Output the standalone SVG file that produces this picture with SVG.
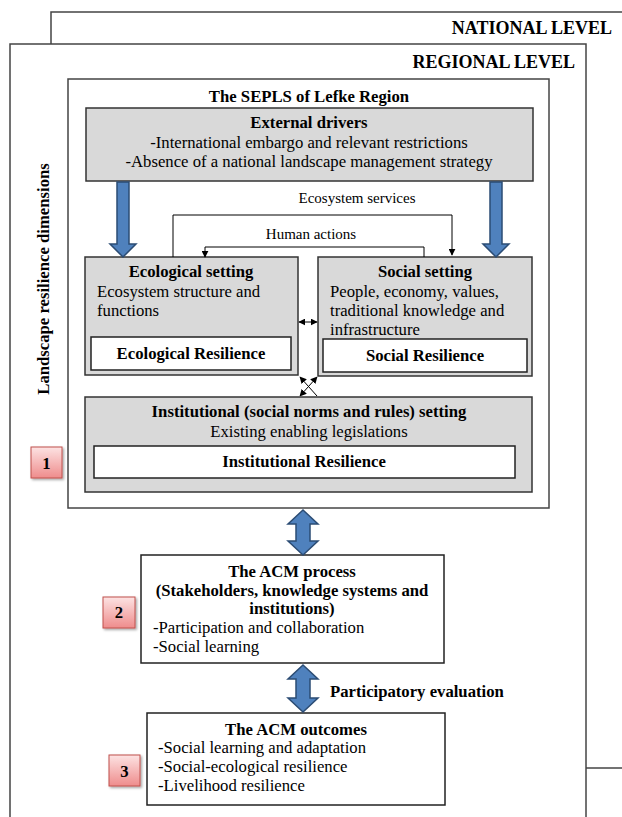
<svg xmlns="http://www.w3.org/2000/svg" width="622" height="817" viewBox="0 0 622 817">
<defs>
<style>
text{font-family:"Liberation Serif","Times New Roman",serif;fill:#000;font-size:16.7px;}
.b{font-weight:bold;}
.c{text-anchor:middle;}
.lvl{font-size:18px;font-weight:bold;text-anchor:end;}
.sm{font-size:15px;}
.frame{fill:#fff;stroke:#444;stroke-width:1.5;}
.gray{fill:#d9d9d9;stroke:#333;stroke-width:1.5;}
.inner{fill:#fff;stroke:#222;stroke-width:1.5;}
.blue{fill:#4f81bd;stroke:#2b4c74;stroke-width:1.5;}
.num{fill:url(#rg);stroke:#c0504d;stroke-width:1;}
.ln{fill:none;stroke:#000;stroke-width:1;}
</style>
<linearGradient id="rg" x1="0" y1="0" x2="0" y2="1">
<stop offset="0" stop-color="#fde3e3"/>
<stop offset="1" stop-color="#ee8c8c"/>
</linearGradient>
<filter id="sh" x="-20%" y="-20%" width="150%" height="150%">
<feDropShadow dx="1.5" dy="1.5" stdDeviation="1" flood-color="#000" flood-opacity="0.35"/>
</filter>
<marker id="ah" viewBox="0 0 10 10" refX="9" refY="5" markerWidth="7" markerHeight="7" orient="auto-start-reverse" markerUnits="userSpaceOnUse">
<path d="M0,0 L10,5 L0,10 z" fill="#000"/>
</marker>
</defs>

<g id="national">
<rect x="51" y="12" width="600" height="756" class="frame"/>
<text x="612" y="34" class="lvl">NATIONAL LEVEL</text>
</g>

<g id="regional">
<rect x="10" y="44" width="576" height="800" class="frame"/>
<text x="575" y="68" class="lvl">REGIONAL LEVEL</text>
</g>

<g id="dimensions-label">
<text transform="translate(49,279) rotate(-90)" class="b c">Landscape resilience dimensions</text>
</g>

<g id="sepls">
<rect x="68" y="79" width="481" height="429" class="frame"/>
<text x="309" y="102" class="b c">The SEPLS of Lefke Region</text>
</g>

<g id="external-drivers">
<rect x="86" y="108" width="447" height="73" class="gray"/>
<text x="309" y="128" class="b c">External drivers</text>
<text x="309" y="147.5" class="c">-International embargo and relevant restrictions</text>
<text x="309" y="166.5" class="c">-Absence of a national landscape management strategy</text>
</g>

<g id="ecological">
<rect x="85" y="257" width="213" height="118" class="gray"/>
<text x="191" y="277" class="b c">Ecological setting</text>
<text x="97" y="297">Ecosystem structure and</text>
<text x="97" y="316">functions</text>
<rect x="91" y="337" width="200" height="33" class="inner"/>
<text x="191" y="359" class="b c">Ecological Resilience</text>
</g>

<g id="social">
<rect x="318" y="257" width="214" height="119" class="gray"/>
<text x="425" y="277" class="b c">Social setting</text>
<text x="330" y="297">People, economy, values,</text>
<text x="330" y="316">traditional knowledge and</text>
<text x="330" y="335">infrastructure</text>
<rect x="323" y="339" width="204" height="33" class="inner"/>
<text x="425" y="361" class="b c">Social Resilience</text>
</g>

<g id="institutional">
<rect x="85" y="397" width="447" height="95" class="gray"/>
<text x="309" y="417" class="b c">Institutional (social norms and rules) setting</text>
<text x="309" y="437" class="c">Existing enabling legislations</text>
<rect x="94" y="446" width="421" height="32" class="inner"/>
<text x="304" y="467" class="b c">Institutional Resilience</text>
</g>

<g id="acm-process">
<rect x="141" y="555" width="303" height="108" class="inner"/>
<text x="292" y="577" class="b c">The ACM process</text>
<text x="292" y="596" class="b c">(Stakeholders, knowledge systems and</text>
<text x="292" y="614" class="b c">institutions)</text>
<text x="153" y="633">-Participation and collaboration</text>
<text x="153" y="652">-Social learning</text>
</g>

<g id="acm-outcomes">
<rect x="147" y="713" width="298" height="92" class="inner"/>
<text x="296" y="735" class="b c">The ACM outcomes</text>
<text x="158" y="753">-Social learning and adaptation</text>
<text x="158" y="772">-Social-ecological resilience</text>
<text x="158" y="791">-Livelihood resilience</text>
</g>

<g id="badge-1">
<rect x="31" y="447" width="31" height="31" class="num" filter="url(#sh)"/>
<text x="46.5" y="468.5" class="b c">1</text>
</g>
<g id="badge-2">
<rect x="103" y="597" width="32" height="31" class="num" filter="url(#sh)"/>
<text x="119" y="618" class="b c">2</text>
</g>
<g id="badge-3">
<rect x="109" y="755" width="31" height="31" class="num" filter="url(#sh)"/>
<text x="124.5" y="776.5" class="b c">3</text>
</g>

<g id="connectors">
<path class="blue" d="M117,182 H129 V244 H136 L123,257 L110,244 H117 Z"/>
<path class="blue" d="M490,182 H502 V244 H509 L496,257 L483,244 H490 Z"/>
<path class="blue" d="M303,510 L318,524 H310 V541 H318 L303,555 L288,541 H296 V524 H288 Z"/>
<path class="blue" d="M303,665 L318,679 H310 V698 H318 L303,712 L288,698 H296 V679 H288 Z"/>
<path class="ln" d="M173,257 V215 H452 V255" marker-end="url(#ah)"/>
<text x="357" y="203" class="c sm">Ecosystem services</text>
<path class="ln" d="M424,257 V247 H205 V257" marker-end="url(#ah)"/>
<text x="311" y="239" class="c sm">Human actions</text>
<line class="ln" x1="299" y1="322" x2="317" y2="322" marker-start="url(#ah)" marker-end="url(#ah)"/>
<line class="ln" x1="317" y1="377" x2="300" y2="396" marker-start="url(#ah)" marker-end="url(#ah)"/>
<line class="ln" x1="300" y1="377" x2="317" y2="396" marker-start="url(#ah)"/>
<text x="330" y="697" class="b">Participatory evaluation</text>
</g>
</svg>
